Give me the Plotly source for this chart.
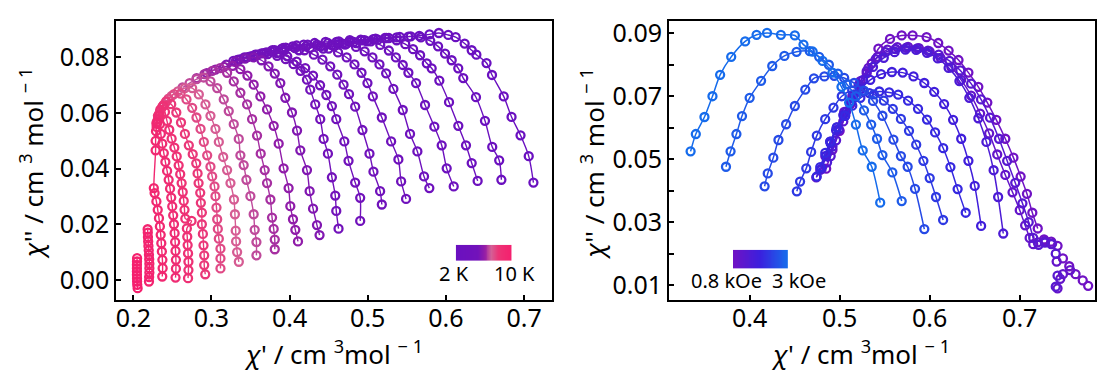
import plotly.graph_objects as go
from plotly.colors import sample_colorscale

# ---------------- LEFT PANEL DATA (temperature series, 2 K ... 10 K) ----------------
temps_K = [2.0, 2.4, 2.8, 3.2, 3.6, 4.0, 4.4, 4.8, 5.2, 5.6, 6.0,
           6.4, 6.8, 7.2, 7.6, 8.0, 8.4, 8.8, 9.2, 9.6, 10.0]

lx00 = [0.712,0.706,0.6955,0.684,0.674,0.659,0.652,0.639,0.633,0.624,0.6125,0.603,0.591,0.579,0.566,0.552,0.537,0.522,0.507,0.492,0.477,0.462]
ly00 = [0.035,0.0445,0.052,0.0586,0.066,0.0737,0.078,0.081,0.0826,0.085,0.0873,0.0881,0.0888,0.0883,0.0878,0.0875,0.0872,0.0870,0.0866,0.0862,0.0856,0.0848]
lx01 = [0.671,0.6682,0.6593,0.650,0.6385,0.6222,0.6158,0.6074,0.5989,0.590,0.580,0.568,0.555,0.541,0.527,0.513,0.499,0.485,0.471,0.457,0.443]
ly01 = [0.036,0.043,0.0478,0.0572,0.0657,0.0726,0.0761,0.079,0.0814,0.0840,0.0860,0.0872,0.0876,0.0874,0.0870,0.0864,0.0858,0.0852,0.0846,0.0840,0.0832]
lx02 = [0.6406,0.633,0.6257,0.6159,0.604,0.5916,0.5818,0.5755,0.567,0.558,0.548,0.537,0.524,0.510,0.496,0.482,0.468,0.454,0.440,0.426,0.412]
ly02 = [0.0356,0.042,0.0484,0.0554,0.0639,0.0717,0.0761,0.0779,0.0808,0.0830,0.0848,0.0862,0.0870,0.0868,0.0862,0.0856,0.0850,0.0845,0.0840,0.0834,0.0826]
lx03 = [0.610,0.601,0.5946,0.5852,0.5733,0.5618,0.552,0.5448,0.536,0.527,0.516,0.504,0.491,0.477,0.463,0.449,0.435,0.421,0.407,0.393]
ly03 = [0.0336,0.0401,0.0484,0.0551,0.0629,0.0708,0.0745,0.0773,0.0800,0.0825,0.0845,0.0858,0.0864,0.0862,0.0858,0.0852,0.0846,0.0840,0.0834,0.0826]
lx04 = [0.5788,0.572,0.5635,0.5541,0.5448,0.5328,0.5235,0.515,0.506,0.496,0.485,0.473,0.460,0.446,0.432,0.418,0.404,0.390,0.376]
ly04 = [0.033,0.0372,0.0462,0.0525,0.0611,0.0687,0.0743,0.0775,0.0800,0.0822,0.0838,0.0850,0.0856,0.0856,0.0852,0.0846,0.0840,0.0832,0.0822]
lx05 = [0.549,0.5427,0.5392,0.5299,0.518,0.5065,0.4996,0.492,0.483,0.473,0.462,0.450,0.437,0.423,0.409,0.395,0.381,0.367,0.353]
ly05 = [0.0291,0.0354,0.0433,0.0498,0.0584,0.066,0.0708,0.0745,0.0775,0.0800,0.0818,0.0832,0.0842,0.0846,0.0843,0.0835,0.0826,0.0816,0.0805]
lx06 = [0.518,0.5158,0.5073,0.5022,0.4932,0.4839,0.476,0.469,0.461,0.452,0.442,0.431,0.419,0.406,0.392,0.378,0.364,0.350,0.336]
ly06 = [0.0271,0.0319,0.0389,0.0454,0.0539,0.0623,0.0668,0.0702,0.0738,0.0768,0.0792,0.0810,0.0826,0.0836,0.0834,0.0826,0.0815,0.0804,0.0793]
lx07 = [0.4903,0.4903,0.4839,0.4754,0.470,0.4597,0.4541,0.447,0.439,0.430,0.420,0.409,0.397,0.384,0.370,0.356,0.342,0.328]
ly07 = [0.0212,0.0295,0.035,0.0428,0.0498,0.0578,0.0625,0.0665,0.0700,0.0735,0.0762,0.0785,0.0804,0.0816,0.0818,0.0810,0.0800,0.0788]
lx08 = [0.4626,0.4597,0.4584,0.4541,0.449,0.4435,0.4392,0.4328,0.4264,0.4222,0.414,0.405,0.395,0.384,0.372,0.359,0.346,0.333]
ly08 = [0.0184,0.0248,0.0303,0.0369,0.0454,0.0507,0.0578,0.0631,0.0684,0.072,0.0752,0.0776,0.0794,0.0806,0.0812,0.0810,0.0801,0.0791]
lx09 = [0.4383,0.435,0.430,0.4256,0.4222,0.4137,0.4095,0.403,0.3945,0.3881,0.381,0.373,0.364,0.354,0.343,0.331,0.319]
ly09 = [0.0161,0.0197,0.0256,0.0319,0.0395,0.0466,0.0537,0.0602,0.0655,0.0708,0.0742,0.0768,0.0790,0.0800,0.0796,0.0786,0.0774]
lx10 = [0.4107,0.4073,0.4043,0.4009,0.3987,0.3923,0.386,0.3796,0.3711,0.3626,0.354,0.346,0.337,0.327,0.316,0.305,0.294]
ly10 = [0.0138,0.018,0.0218,0.0265,0.033,0.0401,0.049,0.0554,0.0613,0.066,0.0702,0.0735,0.0758,0.0770,0.0766,0.0756,0.0744]
lx11 = [0.381,0.381,0.3796,0.3775,0.3754,0.3711,0.3681,0.363,0.3583,0.352,0.3456,0.337,0.3285,0.320,0.311,0.301,0.291,0.281]
ly11 = [0.011,0.0145,0.0183,0.0224,0.0289,0.0348,0.0395,0.0454,0.0519,0.0578,0.0631,0.0673,0.0714,0.0745,0.0762,0.0752,0.0740,0.0726]
lx12 = [0.3575,0.3575,0.3553,0.354,0.3498,0.3447,0.3412,0.337,0.3349,0.3285,0.3221,0.3157,0.3073,0.2987,0.290,0.281,0.272,0.263]
ly12 = [0.0088,0.0136,0.018,0.0236,0.0301,0.036,0.0413,0.0448,0.0507,0.056,0.0607,0.0649,0.069,0.0714,0.0728,0.0722,0.0708,0.0692]
lx13 = [0.335,0.3328,0.3315,0.331,0.330,0.3288,0.3243,0.320,0.315,0.3094,0.3051,0.2987,0.2923,0.2838,0.2753,0.266,0.257,0.249,0.242]
ly13 = [0.0065,0.010,0.0138,0.0177,0.0236,0.0289,0.0348,0.0395,0.0442,0.0496,0.0543,0.059,0.0631,0.0667,0.069,0.0690,0.0678,0.0662,0.0640]
lx14 = [0.3115,0.3115,0.3115,0.3094,0.3081,0.3073,0.3064,0.3051,0.3039,0.3009,0.2987,0.2945,0.2902,0.286,0.2808,0.2753,0.268,0.2604,0.252,0.245,0.239,0.234]
ly14 = [0.0041,0.0077,0.0112,0.0148,0.0183,0.0218,0.026,0.0301,0.0336,0.0372,0.0407,0.0448,0.0496,0.0543,0.0584,0.0619,0.0649,0.067,0.0668,0.0652,0.0630,0.0604]
lx15 = [0.292,0.2907,0.2907,0.2898,0.289,0.2877,0.2877,0.2864,0.2856,0.2835,0.2822,0.2805,0.276,0.271,0.266,0.261,0.255,0.2485,0.242,0.237,0.233,0.230]
ly15 = [0.002,0.0053,0.0088,0.0124,0.0165,0.020,0.0242,0.0277,0.0313,0.0348,0.0383,0.0419,0.0452,0.0484,0.0525,0.0566,0.0602,0.0632,0.0642,0.0622,0.0596,0.0568]
lx16 = [0.270,0.2705,0.2705,0.270,0.2695,0.269,0.2685,0.2745,0.2665,0.2655,0.2645,0.2632,0.2618,0.260,0.258,0.2555,0.2525,0.249,0.246,0.243,0.2405,0.238,0.2345,0.2315,0.2295]
ly16 = [0.0006,0.0035,0.0065,0.0095,0.0125,0.0155,0.0185,0.0212,0.022,0.0252,0.0284,0.0316,0.0348,0.038,0.0412,0.0444,0.0476,0.0508,0.054,0.0572,0.0604,0.0626,0.0612,0.059,0.0562]
lx17 = [0.254,0.2545,0.2545,0.254,0.2535,0.2528,0.252,0.251,0.2498,0.2485,0.247,0.2452,0.2432,0.241,0.239,0.237,0.2352,0.234,0.2335,0.2315,0.2298]
ly17 = [0.0008,0.004,0.0072,0.0104,0.0136,0.0168,0.020,0.0232,0.0264,0.0296,0.0328,0.036,0.0392,0.0424,0.0456,0.049,0.0525,0.056,0.0592,0.0578,0.0550]
lx18 = [0.237,0.2375,0.2372,0.2365,0.2358,0.235,0.234,0.2328,0.2312,0.2295,0.2272,0.2262,0.2285,0.2285,0.229,0.2305]
ly18 = [0.0012,0.0042,0.0072,0.0102,0.0132,0.0162,0.0192,0.0222,0.0252,0.0282,0.0312,0.033,0.0466,0.050,0.0535,0.0565]
lx19 = [0.220,0.2202,0.2205,0.2205,0.2205,0.2203,0.220,0.2197,0.2193,0.219,0.2187,0.2185,0.2183]
ly19 = [-0.0006,0.001,0.0026,0.0042,0.0058,0.0074,0.009,0.0106,0.0122,0.0138,0.0154,0.017,0.0182]
lx20 = [0.2055,0.205,0.2048,0.2047,0.2046,0.2046,0.2046,0.2046,0.2047,0.2048]
ly20 = [-0.003,-0.0018,-0.0006,0.0006,0.0018,0.003,0.0042,0.0054,0.0066,0.0078]

left_xs = [lx00, lx01, lx02, lx03, lx04, lx05, lx06, lx07, lx08, lx09, lx10,
           lx11, lx12, lx13, lx14, lx15, lx16, lx17, lx18, lx19, lx20]
left_ys = [ly00, ly01, ly02, ly03, ly04, ly05, ly06, ly07, ly08, ly09, ly10,
           ly11, ly12, ly13, ly14, ly15, ly16, ly17, ly18, ly19, ly20]

# ---------------- RIGHT PANEL DATA (field series, 0.8 kOe ... 3 kOe) ----------------
fields_kOe = [0.8, 1.0, 1.2, 1.4, 1.6, 1.8, 2.0, 2.2, 2.5, 3.0]

rx_08 = [0.485,0.492,0.500,0.5061,0.5116,0.5227,0.530,0.5356,0.543,0.5559,0.5689,0.581,0.5965,0.6095,0.621,0.632,0.643,0.654,0.664,0.674,0.684,0.693,0.701,0.708,0.714,0.720,0.727,0.735,0.742,0.748,0.755,0.762,0.770,0.776]
ry_08 = [0.047,0.053,0.059,0.0638,0.0674,0.0731,0.0773,0.0804,0.0851,0.0882,0.0893,0.0893,0.0888,0.0869,0.0845,0.0815,0.0775,0.073,0.068,0.0625,0.0565,0.0505,0.0445,0.039,0.033,0.028,0.0245,0.0238,0.0225,0.0185,0.016,0.0135,0.0115,0.0098]
rx_10 = [0.474,0.4784,0.484,0.4895,0.4968,0.505,0.514,0.523,0.532,0.542,0.553,0.564,0.576,0.588,0.600,0.612,0.624,0.635,0.646,0.656,0.666,0.675,0.684,0.692,0.700,0.706,0.711,0.715,0.720,0.728,0.736,0.741,0.745,0.742,0.748,0.756]
ry_10 = [0.0442,0.0466,0.051,0.0556,0.0601,0.065,0.070,0.0748,0.079,0.0825,0.0848,0.0856,0.0857,0.0853,0.0842,0.0822,0.0792,0.0752,0.0702,0.0645,0.0582,0.0515,0.045,0.0395,0.0338,0.029,0.025,0.023,0.0236,0.024,0.0232,0.0175,0.012,0.009,0.0135,0.0148]
rx_12 = [0.490,0.496,0.504,0.512,0.521,0.530,0.540,0.551,0.562,0.574,0.586,0.598,0.610,0.622,0.634,0.646,0.657,0.667,0.677,0.686,0.695,0.703,0.710,0.715,0.721,0.728,0.735,0.740,0.742,0.740]
ry_12 = [0.051,0.056,0.062,0.068,0.0735,0.078,0.0818,0.084,0.085,0.0854,0.0852,0.0845,0.0832,0.0812,0.0782,0.074,0.069,0.0632,0.0565,0.0495,0.0425,0.036,0.030,0.025,0.0228,0.0235,0.023,0.020,0.013,0.0095]
rx_14 = [0.486,0.492,0.499,0.507,0.516,0.526,0.537,0.549,0.561,0.573,0.585,0.597,0.609,0.621,0.633,0.644,0.654,0.663,0.671,0.676,0.6817]
ry_14 = [0.049,0.054,0.0595,0.065,0.0705,0.0752,0.0793,0.0822,0.084,0.0848,0.0847,0.0838,0.082,0.079,0.0748,0.0695,0.063,0.0555,0.0465,0.038,0.0264]
rx_16 = [0.480,0.485,0.490,0.496,0.504,0.513,0.523,0.534,0.546,0.558,0.570,0.582,0.594,0.605,0.616,0.626,0.635,0.643,0.650,0.6571]
ry_16 = [0.047,0.051,0.055,0.0592,0.064,0.0685,0.0722,0.0752,0.077,0.0777,0.0775,0.0763,0.0742,0.0714,0.0675,0.0625,0.0565,0.0495,0.0415,0.0288]
rx_18 = [0.4745,0.4784,0.484,0.4895,0.4968,0.5061,0.514,0.523,0.533,0.544,0.555,0.565,0.576,0.587,0.597,0.606,0.615,0.623,0.631,0.640]
ry_18 = [0.0445,0.0475,0.052,0.0556,0.0601,0.0638,0.067,0.0695,0.071,0.0715,0.0712,0.0705,0.0686,0.066,0.0626,0.0585,0.0535,0.0475,0.0405,0.033]
rx_20 = [0.4524,0.456,0.4629,0.4683,0.4746,0.4839,0.4931,0.5023,0.5139,0.526,0.538,0.549,0.559,0.568,0.577,0.585,0.593,0.600,0.607,0.6149]
ry_20 = [0.0398,0.0429,0.0471,0.0523,0.0575,0.0627,0.0664,0.070,0.0718,0.0716,0.0706,0.0686,0.066,0.0628,0.059,0.0546,0.0495,0.044,0.038,0.0307]
rx_22 = [0.4166,0.4201,0.4263,0.432,0.4405,0.4502,0.4618,0.4714,0.483,0.494,0.505,0.516,0.527,0.537,0.5475,0.5597,0.568,0.5755,0.5837,0.594]
ry_22 = [0.0414,0.0455,0.0505,0.0561,0.0611,0.0669,0.0721,0.0757,0.0763,0.0765,0.0758,0.0742,0.0718,0.0685,0.0638,0.0562,0.051,0.0476,0.0406,0.0278]
rx_25 = [0.3737,0.3788,0.3853,0.3915,0.400,0.4127,0.4251,0.4386,0.4521,0.4668,0.4772,0.488,0.498,0.508,0.518,0.527,0.535,0.5415,0.5475,0.5585,0.5689]
ry_25 = [0.0476,0.0525,0.058,0.0637,0.0695,0.0749,0.0796,0.0828,0.0841,0.0843,0.0825,0.080,0.0772,0.0738,0.070,0.0655,0.061,0.0565,0.0513,0.0458,0.0367]
rx_30 = [0.3344,0.3402,0.3498,0.3587,0.3672,0.3795,0.395,0.4077,0.4193,0.4347,0.4502,0.4598,0.470,0.481,0.492,0.502,0.5105,0.518,0.5256,0.5356,0.545]
ry_30 = [0.0525,0.058,0.0634,0.070,0.0768,0.0825,0.0874,0.0895,0.0901,0.0895,0.0893,0.0864,0.0842,0.0812,0.0775,0.073,0.068,0.061,0.0528,0.0476,0.0362]

right_xs = [rx_08, rx_10, rx_12, rx_14, rx_16, rx_18, rx_20, rx_22, rx_25, rx_30]
right_ys = [ry_08, ry_10, ry_12, ry_14, ry_16, ry_18, ry_20, ry_22, ry_25, ry_30]
right_fit_len = [26, 27, 24, 21, 20, 20, 20, 20, 21, 21]

# ---------------- TICKS / LABELS ----------------
left_xticks = [0.2, 0.3, 0.4, 0.5, 0.6, 0.7]
left_yticks = [0.00, 0.02, 0.04, 0.06, 0.08]
right_xticks = [0.4, 0.5, 0.6, 0.7]
right_yticks = [0.01, 0.03, 0.05, 0.07, 0.09]

# ---------------- STYLE ----------------
W, H = 1097, 374
FONT = "Noto Sans"
left_scale = [[0.0, "rgb(106,16,192)"], [0.40, "rgb(114,18,186)"], [0.52, "rgb(150,30,165)"],
              [0.64, "rgb(212,96,150)"], [0.76, "rgb(236,52,118)"], [1.0, "rgb(245,32,110)"]]
right_scale = [[0.0, "rgb(112,18,196)"], [0.5, "rgb(58,32,222)"], [1.0, "rgb(22,108,236)"]]

fig = go.Figure()

# left panel: 2 K drawn first, 10 K on top
for i in range(len(temps_K)):
    t = (temps_K[i] - temps_K[0]) / (temps_K[-1] - temps_K[0])
    c = sample_colorscale(left_scale, [t])[0]
    fig.add_trace(go.Scatter(
        x=left_xs[i], y=left_ys[i], xaxis="x", yaxis="y",
        mode="lines+markers",
        line=dict(color=c, width=1.4, shape="spline", smoothing=0.8),
        marker=dict(symbol="circle-open", size=8, color=c, line=dict(color=c, width=2.3)),
        hoverinfo="skip"))

# right panel
for i in range(len(fields_kOe)):
    t = i / (len(fields_kOe) - 1)
    c = sample_colorscale(right_scale, [t])[0]
    n = right_fit_len[i]
    fig.add_trace(go.Scatter(
        x=right_xs[i][:n], y=right_ys[i][:n], xaxis="x2", yaxis="y2",
        mode="lines", line=dict(color=c, width=1.5, shape="spline", smoothing=0.8),
        hoverinfo="skip"))
    fig.add_trace(go.Scatter(
        x=right_xs[i], y=right_ys[i], xaxis="x2", yaxis="y2",
        mode="markers",
        marker=dict(symbol="circle-open", size=8, color=c, line=dict(color=c, width=2.3)),
        hoverinfo="skip"))

# colour bars (legends)
bar_z = [list(range(60))]
fig.add_trace(go.Heatmap(z=bar_z, xaxis="x3", yaxis="y3", colorscale=left_scale,
                         showscale=False, hoverinfo="skip"))
fig.add_trace(go.Heatmap(z=bar_z, xaxis="x4", yaxis="y4", colorscale=right_scale,
                         showscale=False, hoverinfo="skip"))

def px_x(p):
    return p / W

def px_y(p):
    return 1 - p / H

axis_common = dict(ticks="inside", ticklen=5, tickwidth=1.5, tickcolor="black",
                   showline=True, linewidth=2, linecolor="black", mirror=True,
                   showgrid=False, zeroline=False,
                   tickfont=dict(family=FONT, size=25, color="black"))

y_dom = [px_y(299), px_y(15.7)]
fig.update_layout(
    width=W, height=H, margin=dict(l=0, r=0, t=0, b=0),
    paper_bgcolor="white", plot_bgcolor="white", showlegend=False,
    xaxis=dict(domain=[px_x(115.7), px_x(553)], range=[0.1783, 0.7364], anchor="y",
               tickvals=left_xticks, ticktext=[f"{v:.1f}" for v in left_xticks],
               ticklabelstandoff=-5, **axis_common),
    yaxis=dict(domain=y_dom, range=[-0.00733, 0.09296], anchor="x",
               tickvals=left_yticks, ticktext=[f"{v:.2f}" for v in left_yticks], **axis_common),
    xaxis2=dict(domain=[px_x(670), 1.0], range=[0.3106, 0.7836], anchor="y2",
                tickvals=right_xticks, ticktext=[f"{v:.1f}" for v in right_xticks],
                ticklabelstandoff=-5, **axis_common),
    yaxis2=dict(domain=y_dom, range=[0.00522, 0.09375], anchor="x2",
                tickvals=right_yticks, ticktext=[f"{v:.2f}" for v in right_yticks],
                minor=dict(dtick=0.01, tick0=0.0, ticks="inside", ticklen=5, tickwidth=1.5,
                           tickcolor="black", showgrid=False),
                **axis_common),
    xaxis3=dict(domain=[px_x(456), px_x(512)], anchor="y3", visible=False),
    yaxis3=dict(domain=[px_y(259), px_y(242.7)], anchor="x3", visible=False),
    xaxis4=dict(domain=[px_x(734), px_x(789)], anchor="y4", visible=False),
    yaxis4=dict(domain=[px_y(266.7), px_y(247.7)], anchor="x4", visible=False),
)

title_font = dict(family=FONT, size=26, color="black")
leg_font = dict(family=FONT, size=20, color="black")
ytitle = "<i>χ</i>'' / cm <sup>3</sup> mol <sup>− 1</sup>"
xtitle = "<i>χ</i>' / cm <sup>3</sup>mol <sup>− 1</sup>"
annos = [
    dict(text=xtitle, x=px_x(333), y=px_y(353), font=title_font),
    dict(text=ytitle, x=px_x(32), y=px_y(160), font=title_font, textangle=-90),
    dict(text=xtitle, x=px_x(862), y=px_y(353), font=title_font),
    dict(text=ytitle, x=px_x(594), y=px_y(160), font=title_font, textangle=-90),
    dict(text="2 K", x=px_x(454), y=px_y(272), font=leg_font),
    dict(text="10 K", x=px_x(515), y=px_y(272), font=leg_font),
    dict(text="0.8 kOe", x=px_x(727), y=px_y(279), font=leg_font),
    dict(text="3 kOe", x=px_x(800), y=px_y(279), font=leg_font),
]
for a in annos:
    fig.add_annotation(xref="paper", yref="paper", showarrow=False,
                       xanchor="center", yanchor="middle", **a)

fig.write_html("out.html")
